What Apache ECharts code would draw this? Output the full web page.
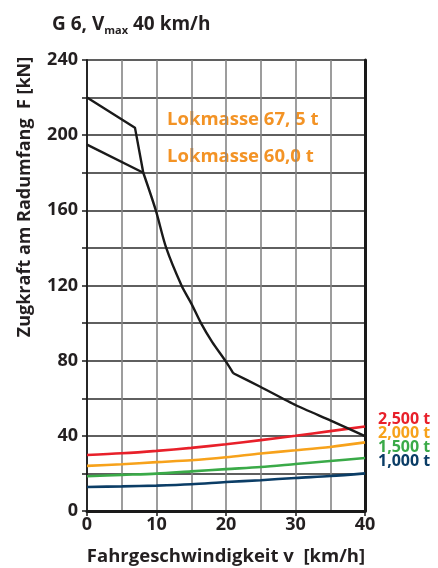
<!DOCTYPE html>
<html><head><meta charset="utf-8">
<script src="https://cdn.jsdelivr.net/npm/echarts@6/dist/echarts.min.js"></script>
<style>html,body{margin:0;padding:0;background:#fff}#c{width:438px;height:568px}</style>
</head><body><div id="c"></div>
<script>
var speeds = [0, 5, 10, 15, 20, 25, 30, 35, 40];
var r2500 = [29.8, 30.7, 32.0, 33.6, 35.5, 37.7, 40.0, 42.5, 45.0];
var r2000 = [24.0, 24.9, 26.0, 27.0, 28.6, 30.6, 32.3, 34.1, 36.5];
var r1500 = [18.5, 19.2, 19.9, 21.1, 22.3, 23.4, 25.0, 26.6, 28.2];
var r1000 = [12.8, 13.1, 13.5, 14.2, 15.4, 16.4, 17.6, 18.6, 20.0];
var loco675 = [[0, 220], [6.9, 204], [8.1, 180]];
var loco600 = [[0, 195], [8.1, 180]];
var hyperV = [8.1, 9.9, 11.4, 13.6, 15.0, 16.4, 18.0, 19.9, 21.05];
var hyperF = [180, 160, 140, 120, 110.5, 100, 90, 80, 73.3];
var tailV = [21.05, 25, 30, 35, 40];
var tailF = [73.3, 66.0, 56.4, 48.2, 39.8];
var loadLabels = ['2,500 t', '2,000 t', '1,500 t', '1,000 t'];
var loadColors = ['#e8202a', '#f7a21b', '#3aaa48', '#0b3d66'];
var massLabels = ['Lokmasse 67, 5 t', 'Lokmasse 60,0 t'];

function pairs(xs, ys) { return xs.map(function (x, i) { return [x, ys[i]]; }); }
var FONT = 'Open Sans';
var TXT = '#231f20';
var chart = echarts.init(document.getElementById('c'));
var loads = [r2500, r2000, r1500, r1000];
var series = [];
loads.forEach(function (arr, i) {
  series.push({ type: 'line', data: pairs(speeds, arr), smooth: 0.3, symbol: 'none',
    lineStyle: { color: loadColors[i], width: 2.6 }, z: 3 });
});
var blk = { color: '#1a1a1a', width: 2.4 };
series.push({ type: 'line', data: loco675, symbol: 'none', lineStyle: blk, z: 4 });
series.push({ type: 'line', data: loco600, symbol: 'none', lineStyle: blk, z: 4 });
series.push({ type: 'line', data: pairs(hyperV, hyperF), smooth: 0.3, symbol: 'none', lineStyle: blk, z: 4 });
series.push({ type: 'line', data: pairs(tailV, tailF), smooth: 0.2, symbol: 'none', lineStyle: blk, z: 4 });

var graphics = [
  { type: 'text', left: 52, top: 15, style: { rich: {
      a: { fontFamily: FONT, fontWeight: 'bold', fontSize: 19, fill: TXT },
      s: { fontFamily: FONT, fontWeight: 'bold', fontSize: 11, fill: TXT, verticalAlign: 'bottom', padding: [12, 0, 0, 0] } },
      text: '{a|G 6, V}{s|max}{a| 40 km/h}' } },
  { type: 'text', x: 25, y: 197, rotation: Math.PI / 2,
    style: { text: 'Zugkraft am Radumfang  F [kN]', fontFamily: FONT, fontWeight: 'bold', fontSize: 18,
      fill: TXT, align: 'center', verticalAlign: 'middle' } }
];
var ly = [419, 433, 447, 461];
loadLabels.forEach(function (t, i) {
  graphics.push({ type: 'text', x: 378, y: ly[i], style: { text: t, fontFamily: FONT, fontWeight: 'bold',
    fontSize: 16, fill: loadColors[i], verticalAlign: 'middle' } });
});
var my = [120, 157];
massLabels.forEach(function (t, i) {
  graphics.push({ type: 'text', x: 167, y: my[i], style: { text: t, fontFamily: FONT, fontWeight: 'bold',
    fontSize: 18.5, fill: '#f39325', verticalAlign: 'middle' } });
});

chart.setOption({
  animation: false,
  grid: { left: 87, right: 73, top: 60, bottom: 57, outerBoundsMode: 'none', containLabel: false },
  xAxis: { type: 'value', min: 0, max: 40, interval: 10,
    name: 'Fahrgeschwindigkeit v  [km/h]', nameLocation: 'middle', nameGap: 36,
    nameTextStyle: { fontFamily: FONT, fontWeight: 'bold', fontSize: 18.5, color: TXT },
    axisLine: { show: true, lineStyle: { color: '#1a1a1a', width: 3 } },
    axisTick: { show: true, length: 5, lineStyle: { color: '#1a1a1a', width: 1.5 } },
    axisLabel: { fontFamily: FONT, fontWeight: 'bold', fontSize: 18, color: TXT, margin: 5 },
    splitLine: { show: true, lineStyle: { color: '#858585', width: 1.6 } },
    minorTick: { show: false, splitNumber: 2 },
    minorSplitLine: { show: true, lineStyle: { color: '#858585', width: 1.6 } } },
  yAxis: [{ type: 'value', min: 0, max: 240, interval: 40,
    axisLine: { show: true, lineStyle: { color: '#1a1a1a', width: 1.8 } },
    axisTick: { show: true, length: 5, lineStyle: { color: '#1a1a1a', width: 1.5 } },
    minorTick: { show: true, splitNumber: 2, length: 5, lineStyle: { color: '#1a1a1a', width: 1.5 } },
    axisLabel: { fontFamily: FONT, fontWeight: 'bold', fontSize: 18, color: TXT, margin: 9 },
    splitLine: { show: true, lineStyle: { color: '#2a2a2a', width: 1.6 } },
    minorSplitLine: { show: true, lineStyle: { color: '#2a2a2a', width: 1.6 } } },
    { type: 'value', min: 0, max: 240, interval: 40, position: 'right',
    axisLine: { show: true, lineStyle: { color: '#1a1a1a', width: 3 } },
    axisTick: { show: false }, axisLabel: { show: false }, splitLine: { show: false } }],
  graphic: graphics,
  series: series
});
</script></body></html>
